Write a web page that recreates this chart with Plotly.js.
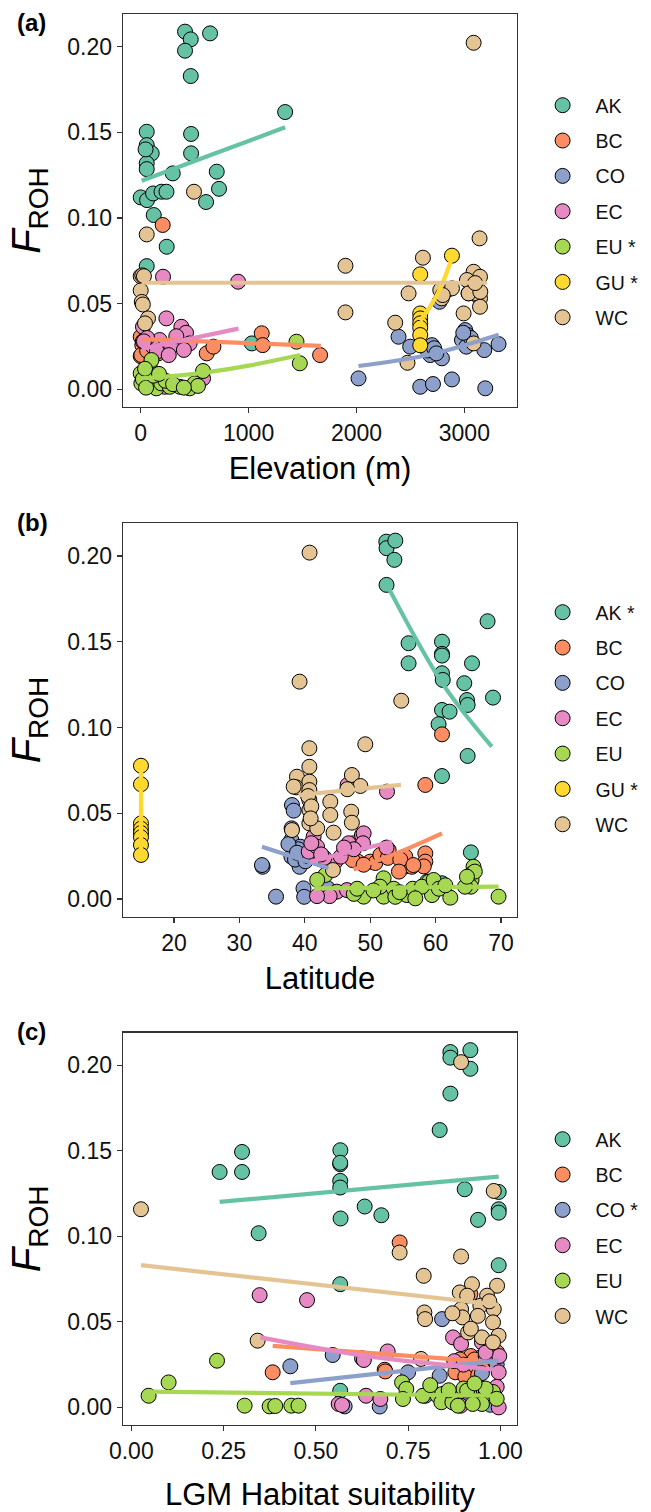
<!DOCTYPE html>
<html>
<head>
<meta charset="utf-8">
<script src="https://cdn.plot.ly/plotly-3.0.1.min.js"></script>
<style>html,body{margin:0;padding:0;background:#fff;}#chart{width:651px;height:1512px;}</style>
</head>
<body>
<div id="chart"></div>
<script>
// ---------- data ----------
const groups = ['AK','BC','CO','EC','EU','GU','WC'];
const legendA = ['AK','BC','CO','EC','EU *','GU *','WC'];
const legendB = ['AK *','BC','CO','EC','EU','GU *','WC'];
const legendC = ['AK','BC','CO *','EC','EU','WC'];
const elevTicks = [0,1000,2000,3000];
const latTicks = [20,30,40,50,60,70];
const hsTicks = [0,0.25,0.5,0.75,1];
const hsTickText = ['0.00','0.25','0.50','0.75','1.00'];
const frohTicks = [0,0.05,0.10,0.15,0.20];
const frohTickText = ['0.00','0.05','0.10','0.15','0.20'];

// Panel (a): elevation
const elevAK = [411,464,643,411,464,1339,56,467,56,102,467,56,56,297,705,0,59,115,193,239,606,726,121,241,56,1030,56,45];
const frohAK_a = [0.2087,0.2042,0.2077,0.1976,0.1828,0.1618,0.1503,0.1490,0.1425,0.1377,0.1377,0.1319,0.1285,0.1260,0.1270,0.1120,0.1104,0.1143,0.1153,0.1153,0.1093,0.1170,0.1017,0.0832,0.0719,0.0268,0.0095,0.1400];
const elevBC = [204,1122,1131,612,674,1663,0,15,0,163,6,40,90,130,20,60];
const frohBC_a = [0.0959,0.0327,0.0258,0.0210,0.0249,0.0200,0.0307,0.0258,0.0194,0.0210,0.0200,0.0290,0.0270,0.0230,0.0280,0.0225];
const elevCO = [2019,2390,2498,2591,2709,2885,3194,2684,2700,2792,2659,3008,3030,2978,3018,3185,3317,3039,2770,2720,2740,3060,2990];
const frohCO_a = [0.0064,0.0307,0.0249,0.0015,0.0031,0.0058,0.0006,0.0200,0.0258,0.0181,0.0227,0.0346,0.0317,0.0288,0.0249,0.0229,0.0264,0.0560,0.0511,0.0240,0.0210,0.0300,0.0330];
const elevEC = [903,207,238,377,420,176,284,114,21,222,578,454,330,400,60,150,260,30];
const frohEC_a = [0.0628,0.0657,0.0414,0.0365,0.0330,0.0288,0.0249,0.0249,0.0365,0.0015,0.0064,0.0268,0.0310,0.0230,0.0300,0.0220,0.0200,0.0280];
const elevEU = [1444,1475,578,362,0,6,83,145,190,269,454,500,531,100,20,50,120,230,300,400,40,170];
const frohEU_a = [0.0278,0.0152,0.0107,0.0015,0.0093,0.0035,0.0132,0.0006,0.0035,0.0015,0.0006,0.0035,0.0020,0.0171,0.0060,0.0010,0.0080,0.0050,0.0030,0.0010,0.0120,0.0090];
const elevGU = [2885,2591,2591,2591,2591,2591,2591,2591];
const frohGU_a = [0.0780,0.0671,0.0443,0.0414,0.0385,0.0360,0.0317,0.0257];
const elevWC = [3086,494,56,3141,2616,1898,0,15,30,0,10,20,68,40,3086,3145,3024,2777,2839,2790,2483,1898,2359,2993,3145,3145,3086,3086,2473,3040,3148,2885,2800,3100];
const frohWC_a = [0.2022,0.1153,0.0904,0.0881,0.0768,0.0721,0.0660,0.0665,0.0660,0.0577,0.0510,0.0495,0.0414,0.0385,0.0686,0.0657,0.0638,0.0579,0.0579,0.0531,0.0560,0.0449,0.0389,0.0443,0.0531,0.0482,0.0560,0.0268,0.0155,0.0560,0.0569,0.0589,0.0550,0.0620];

// Panel (b): latitude
const latAK = [52.46,52.5,53.84,53.7,52.5,67.95,55.87,60.98,60.98,60.98,55.87,65.57,60.98,61.1,64.39,68.78,64.8,64.9,60.98,62.14,60.46,64.9,60.98,65.4,60.98];
const frohAK_b = [0.2083,0.2045,0.2089,0.1977,0.1831,0.1619,0.1491,0.1500,0.1429,0.1419,0.1374,0.1374,0.1316,0.1277,0.1258,0.1174,0.1160,0.1131,0.1102,0.1092,0.1019,0.0834,0.0717,0.0272,0.0092];
const latBC = [60.98,58.43,47.46,48.1,50.0,50.78,51.55,52.82,52.7,55.37,55.2,56.39,58.43,58.43,58.2,47.3,54.6,56.6,54.4,49.0];
const frohBC_b = [0.0960,0.0665,0.0325,0.0218,0.0218,0.0210,0.0257,0.0286,0.0240,0.0247,0.0188,0.0188,0.0266,0.0218,0.0190,0.0227,0.0230,0.0198,0.0160,0.0200];
const latCO = [33.55,35.6,38.04,38.3,37.98,37.95,39.3,37.95,39.2,39.8,39.9,41.35,43.4,43.5,33.45,38.5,40.1,39.0,40.5,37.5,38.8];
const frohCO_b = [0.0188,0.0014,0.0548,0.0515,0.0412,0.0344,0.0305,0.0247,0.0188,0.0062,0.0013,0.0276,0.0208,0.0062,0.0198,0.0230,0.0220,0.0290,0.0250,0.0320,0.0270];
const latEC = [46.55,52.57,41.35,48.74,40.96,40.6,41.87,41.0,46.7,49.0,48.9,44.66,45.5,44.9,43.8,46.45,41.87,43.0,47.5,52.5,46.0,42.5];
const frohEC_b = [0.0665,0.0626,0.0363,0.0373,0.0276,0.0276,0.0305,0.0325,0.0325,0.0383,0.0325,0.0218,0.0247,0.0043,0.0017,0.0052,0.0017,0.0240,0.0290,0.0300,0.0300,0.0260];
const latEU = [43.14,41.9,49.0,52.05,55.6,59.45,62.25,69.63,52.05,58.7,59.0,65.8,65.65,65.5,65.4,51.5,53.6,56.5,57.9,64.5,59.7,53.84,56.9,50.5,47.5,48.0,54.5,60.5,61.5,66.0,64.8];
const frohEU_b = [0.0140,0.0111,0.0014,0.0014,0.0023,0.0023,0.0008,0.0014,0.0121,0.0101,0.0101,0.0188,0.0150,0.0111,0.0072,0.0072,0.0060,0.0060,0.0072,0.0072,0.0111,0.0013,0.0004,0.0050,0.0030,0.0060,0.0040,0.0060,0.0080,0.0160,0.0130];
const latGU = [14.95,14.95,14.95,14.95,14.95,14.95,14.95,14.95];
const frohGU_b = [0.0777,0.0669,0.0441,0.0410,0.0385,0.0360,0.0315,0.0257];
const latWC = [40.73,39.2,54.75,40.7,49.25,40.7,38.8,47.2,38.7,48.5,40.7,40.7,40.7,40.7,43.9,43.9,47.1,47.2,40.7,41.9,38.04,44.4,44.3,38.3,40.5,41.0,40.9,46.5];
const frohWC_b = [0.2019,0.1267,0.1156,0.0879,0.0902,0.0771,0.0713,0.0723,0.0651,0.0659,0.0684,0.0635,0.0577,0.0519,0.0567,0.0490,0.0509,0.0445,0.0441,0.0412,0.0402,0.0387,0.0169,0.0655,0.0600,0.0540,0.0470,0.0640];

// Panel (c): LGM habitat suitability
const hsAK = [0.8645,0.8645,0.9187,0.9187,0.8645,0.8355,0.2393,0.30,0.30,0.5664,0.566,0.566,0.566,0.566,0.567,0.6323,0.6775,0.9033,0.9395,0.9954,0.9954,0.9954,0.345,0.9954,0.566,0.566,0.9458];
const frohAK_c = [0.2077,0.2044,0.2088,0.1979,0.1834,0.1621,0.1376,0.1493,0.1376,0.1503,0.1421,0.1430,0.1324,0.1285,0.1104,0.1174,0.1123,0.1275,0.1096,0.1259,0.1158,0.1138,0.1018,0.0831,0.0720,0.0097,0.0292];
const hsBC = [0.7271,0.383,0.6865,0.9187,0.991,0.878,0.9187,0.9458,0.92,0.93,0.688,0.89,0.96,0.985,0.905,0.94];
const frohBC_c = [0.0964,0.0205,0.0220,0.0662,0.0322,0.0205,0.0213,0.0224,0.0300,0.0280,0.0210,0.0280,0.0250,0.0270,0.0180,0.0190];
const hsCO = [0.842,0.4309,0.5456,0.7499,0.8355,0.7967,0.578,0.673,0.973,0.95,0.99,0.9,0.97,0.88,0.96];
const frohCO_c = [0.0516,0.0240,0.0306,0.0205,0.0185,0.0068,0.0006,0.0005,0.0015,0.0200,0.0250,0.0040,0.0100,0.0020,0.0300];
const hsEC = [0.3477,0.4761,0.6252,0.63,0.6946,0.636,0.6748,0.5618,0.8717,0.8935,0.950,0.9954,0.9954,0.875,0.90,0.997,0.96,0.88,0.571,0.892,0.99];
const frohEC_c = [0.0656,0.0627,0.0287,0.0277,0.0327,0.0068,0.0049,0.0020,0.0409,0.0370,0.0380,0.0205,0.0000,0.0270,0.0250,0.0300,0.0320,0.0050,0.0014,0.0010,0.0120];
const hsEU = [0.0469,0.1011,0.2322,0.307,0.3748,0.39,0.4336,0.453,0.7336,0.745,0.736,0.79,0.83,0.90,0.94,0.842,0.84,0.87,0.91,0.955,0.96,0.98,0.95,0.925,0.885,0.81,0.96,0.99,0.86,0.93];
const frohEU_c = [0.0068,0.0146,0.0273,0.0010,0.0006,0.0008,0.0010,0.0010,0.0146,0.0108,0.0049,0.0068,0.0068,0.0110,0.0058,0.0078,0.0030,0.0030,0.0098,0.0098,0.0080,0.0090,0.0020,0.0020,0.0010,0.0130,0.0110,0.0050,0.0100,0.0140];
const hsWC = [0.0262,0.8935,0.982,0.8935,0.727,0.7922,0.991,0.923,0.89,0.91,0.964,0.9458,0.982,0.8935,0.939,0.897,0.98,0.9125,0.95,0.995,0.794,0.796,0.3423,0.785,0.98,0.92,0.87,0.97];
const frohWC_c = [0.1158,0.2018,0.1265,0.0882,0.0905,0.0769,0.0711,0.0720,0.0672,0.0653,0.0653,0.0594,0.0574,0.0574,0.0535,0.0526,0.0497,0.0438,0.0409,0.0419,0.0555,0.0516,0.0390,0.0283,0.0380,0.0460,0.0550,0.0620];

// fitted trend lines
const fitA_AK_x = [9,674,1339],        fitA_AK_y = [0.1217,0.1373,0.1529];
const fitA_BC_x = [9,1670],            fitA_BC_y = [0.0293,0.0254];
const fitA_CO_x = [2019,2684,3318],    fitA_CO_y = [0.0136,0.0203,0.0318];
const fitA_EC_x = [9,906],             fitA_EC_y = [0.0236,0.0354];
const fitA_EU_x = [9,600,1000,1478],   fitA_EU_y = [0.0064,0.0098,0.0138,0.0200];
const fitA_GU_x = [2591,2680,2777,2885], fitA_GU_y = [0.0400,0.0480,0.0589,0.0766];
const fitA_WC_x = [9,3210],            fitA_WC_y = [0.0622,0.0622];

const fitB_AK_x = [52.97,61.2,68.6],   fitB_AK_y = [0.1802,0.1248,0.0888];
const fitB_BC_x = [47.46,54.6,60.98],  fitB_BC_y = [0.0172,0.0276,0.0383];
const fitB_CO_x = [33.45,43.6],        fitB_CO_y = [0.0305,0.0179];
const fitB_EC_x = [40.84,53.3],        fitB_EC_y = [0.0218,0.0334];
const fitB_EU_x = [41.35,69.63],       fitB_EU_y = [0.0062,0.0072];
const fitB_GU_x = [14.95,14.95],       fitB_GU_y = [0.0257,0.0777];
const fitB_WC_x = [39.05,54.7],        fitB_WC_y = [0.0606,0.0665];

const fitC_AK_x = [0.2393,0.9954],     fitC_AK_y = [0.1201,0.1349];
const fitC_BC_x = [0.383,0.991],       fitC_BC_y = [0.0360,0.0263];
const fitC_CO_x = [0.4309,0.9954],     fitC_CO_y = [0.0142,0.0273];
const fitC_EC_x = [0.3496,0.6387,0.9954], fitC_EC_y = [0.0409,0.0300,0.0220];
const fitC_EU_x = [0.0469,0.991],      fitC_EU_y = [0.0092,0.0068];
const fitC_WC_x = [0.0262,0.995],      fitC_WC_y = [0.0831,0.0600];

// ---------- styling ----------
const colors = {AK:'#66C2A5', BC:'#FC8D62', CO:'#8DA0CB', EC:'#E78AC3', EU:'#A6D854', GU:'#FFD92F', WC:'#E5C494'};
const FONT = 'Liberation Sans, Arial, Helvetica, sans-serif';

const panelA = {
  pts: {AK:[elevAK,frohAK_a],BC:[elevBC,frohBC_a],CO:[elevCO,frohCO_a],EC:[elevEC,frohEC_a],EU:[elevEU,frohEU_a],GU:[elevGU,frohGU_a],WC:[elevWC,frohWC_a]},
  fits: {AK:[fitA_AK_x,fitA_AK_y],BC:[fitA_BC_x,fitA_BC_y],CO:[fitA_CO_x,fitA_CO_y],EC:[fitA_EC_x,fitA_EC_y],EU:[fitA_EU_x,fitA_EU_y],GU:[fitA_GU_x,fitA_GU_y],WC:[fitA_WC_x,fitA_WC_y]},
  names: legendA, groups: groups, xa:'x', ya:'y', legend:'legend', tag:'a'
};
const panelB = {
  pts: {AK:[latAK,frohAK_b],BC:[latBC,frohBC_b],CO:[latCO,frohCO_b],EC:[latEC,frohEC_b],EU:[latEU,frohEU_b],GU:[latGU,frohGU_b],WC:[latWC,frohWC_b]},
  fits: {AK:[fitB_AK_x,fitB_AK_y],BC:[fitB_BC_x,fitB_BC_y],CO:[fitB_CO_x,fitB_CO_y],EC:[fitB_EC_x,fitB_EC_y],EU:[fitB_EU_x,fitB_EU_y],GU:[fitB_GU_x,fitB_GU_y],WC:[fitB_WC_x,fitB_WC_y]},
  names: legendB, groups: groups, xa:'x2', ya:'y2', legend:'legend2', tag:'b'
};
const panelC = {
  pts: {AK:[hsAK,frohAK_c],BC:[hsBC,frohBC_c],CO:[hsCO,frohCO_c],EC:[hsEC,frohEC_c],EU:[hsEU,frohEU_c],WC:[hsWC,frohWC_c]},
  fits: {AK:[fitC_AK_x,fitC_AK_y],BC:[fitC_BC_x,fitC_BC_y],CO:[fitC_CO_x,fitC_CO_y],EC:[fitC_EC_x,fitC_EC_y],EU:[fitC_EU_x,fitC_EU_y],WC:[fitC_WC_x,fitC_WC_y]},
  names: legendC, groups: ['AK','BC','CO','EC','EU','WC'], xa:'x3', ya:'y3', legend:'legend3', tag:'c'
};

const traces = [];
[panelA, panelB, panelC].forEach(p => {
  p.groups.forEach((g, i) => {
    traces.push({
      type:'scatter', mode:'markers', x:p.pts[g][0], y:p.pts[g][1],
      xaxis:p.xa, yaxis:p.ya, name:p.names[i], legend:p.legend, legendgroup:p.tag+g,
      marker:{size:15, color:colors[g], line:{color:'#000', width:1}},
      hoverinfo:'skip'
    });
  });
  p.groups.forEach(g => {
    traces.push({
      type:'scatter', mode:'lines', x:p.fits[g][0], y:p.fits[g][1],
      xaxis:p.xa, yaxis:p.ya, showlegend:false, legend:p.legend, legendgroup:p.tag+g,
      line:{color:colors[g], width:4.2, shape:'spline'}, hoverinfo:'skip'
    });
  });
});

// geometry (px)
const W = 651, H = 1512, ML = 122.7, MR = 134.3, MT = 14, MB = 87;
const PH = H - MT - MB;
function dom(top, bottom){ return [(H - MB - bottom)/PH, (H - MB - top)/PH]; }
function py(p){ return (H - MB - p)/PH; }
function px(p){ return (p - ML)/(W - ML - MR); }

const axLine = {showline:true, mirror:true, linecolor:'#333', linewidth:1.3, ticks:'outside', ticklen:5, tickwidth:1.2, tickcolor:'#333', showgrid:false, zeroline:false, tickfont:{family:FONT, size:23, color:'#111'}};
const yTitle = {text:'<i>F</i><sub>ROH</sub>', font:{family:FONT, size:40, color:'#000'}, standoff:14};
function yax(anchor, domain){ return Object.assign({}, axLine, {anchor:anchor, domain:domain, range:[-0.0103,0.219], tickvals:frohTicks, ticktext:frohTickText, title:yTitle}); }

const legendBase = {font:{family:FONT, size:19.5, color:'#111'}, itemwidth:56, tracegroupgap:7, traceorder:'grouped', bgcolor:'rgba(0,0,0,0)', xanchor:'left', yanchor:'top', x:px(567.3-38), itemclick:false, itemdoubleclick:false};

const layout = {
  width:W, height:H, paper_bgcolor:'#fff', plot_bgcolor:'#fff',
  margin:{l:ML, r:MR, t:MT, b:MB, autoexpand:false},
  font:{family:FONT, color:'#000'},
  showlegend:true,
  xaxis: Object.assign({}, axLine, {anchor:'y', domain:[0,1], range:[-164,3488], tickvals:elevTicks, title:{text:'Elevation (m)', font:{family:FONT, size:31}, standoff:12}}),
  yaxis: yax('x', dom(14,407)),
  xaxis2: Object.assign({}, axLine, {anchor:'y2', domain:[0,1], range:[12.2,72.45], tickvals:latTicks, title:{text:'Latitude', font:{family:FONT, size:31}, standoff:12}}),
  yaxis2: yax('x2', dom(523.3,916.7)),
  xaxis3: Object.assign({}, axLine, {anchor:'y3', domain:[0,1], range:[-0.0225,1.045], tickvals:hsTicks, ticktext:hsTickText, title:{text:'LGM Habitat suitability', font:{family:FONT, size:31}, standoff:22}}),
  yaxis3: yax('x3', dom(1032.7,1425)),
  legend: Object.assign({}, legendBase, {y:py(86)}),
  legend2: Object.assign({}, legendBase, {y:py(593)}),
  legend3: Object.assign({}, legendBase, {y:py(1120)}),
  annotations: [
    {text:'<b>(a)</b>', xref:'paper', yref:'paper', x:px(15), y:py(23), xanchor:'left', yanchor:'middle', showarrow:false, font:{family:FONT, size:24, color:'#000'}},
    {text:'<b>(b)</b>', xref:'paper', yref:'paper', x:px(15), y:py(522), xanchor:'left', yanchor:'middle', showarrow:false, font:{family:FONT, size:24, color:'#000'}},
    {text:'<b>(c)</b>', xref:'paper', yref:'paper', x:px(15), y:py(1031), xanchor:'left', yanchor:'middle', showarrow:false, font:{family:FONT, size:24, color:'#000'}}
  ]
};

Plotly.newPlot('chart', traces, layout, {displayModeBar:false, staticPlot:true});
</script>
</body>
</html>
